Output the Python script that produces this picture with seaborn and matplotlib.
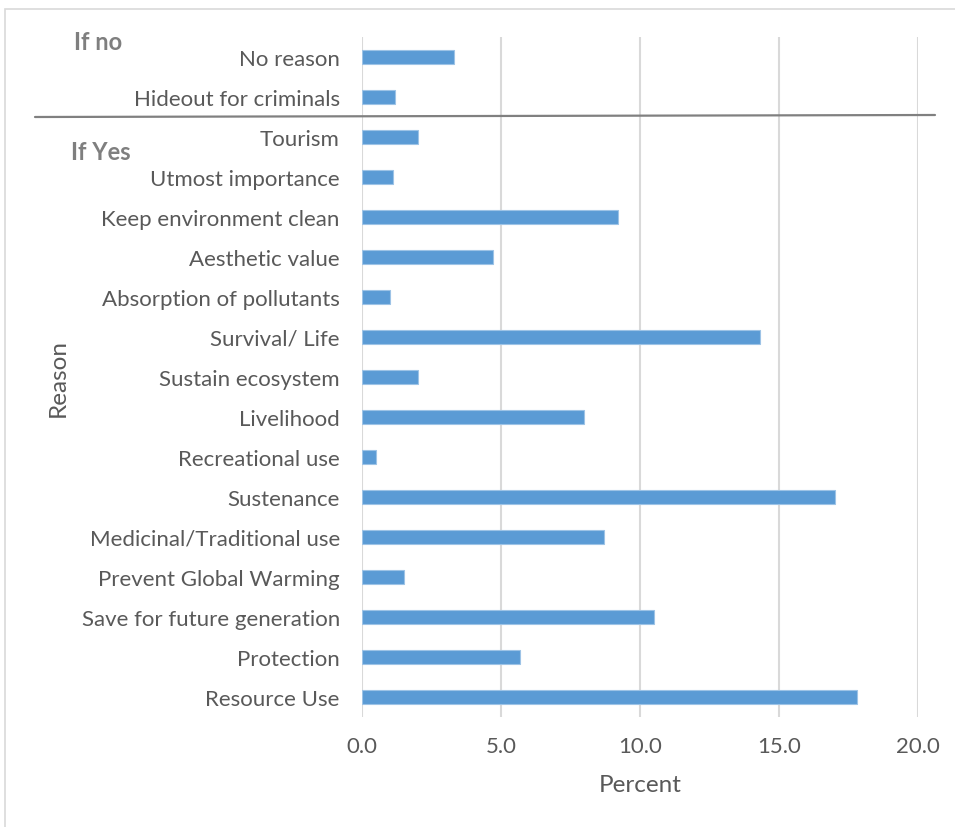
import matplotlib
matplotlib.use("Agg")
import matplotlib.pyplot as plt
import seaborn as sns
import pandas as pd
from matplotlib.lines import Line2D
from matplotlib.patches import Rectangle

# Reasons, listed top to bottom as drawn
reasons = [
    "No reason",
    "Hideout for criminals",
    "Tourism",
    "Utmost importance",
    "Keep environment clean",
    "Aesthetic value",
    "Absorption of pollutants",
    "Survival/ Life",
    "Sustain ecosystem",
    "Livelihood",
    "Recreational use",
    "Sustenance",
    "Medicinal/Traditional use",
    "Prevent Global Warming",
    "Save for future generation",
    "Protection",
    "Resource Use",
]
percent = [3.3, 1.2, 2.0, 1.1, 9.2, 4.7, 1.0, 14.3, 2.0, 8.0, 0.5, 17.0,
           8.7, 1.5, 10.5, 5.7, 17.8]
x_ticks = [0, 5, 10, 15, 20]
x_tick_labels = ["0.0", "5.0", "10.0", "15.0", "20.0"]

df = pd.DataFrame({"Reason": reasons, "Percent": percent})

sns.set_theme(style="white")
plt.rcParams["font.family"] = ["Lato", "DejaVu Sans"]

W, H = 955, 828
fig = plt.figure(figsize=(W / 100, H / 100), dpi=100)
ax = fig.add_axes([362 / W, 1 - 718 / H, 556 / W, 680 / H])

bar_color = "#5b9bd5"
sns.barplot(data=df, x="Percent", y="Reason", order=reasons, orient="h",
            color=bar_color, width=0.35, saturation=1, ax=ax,
            edgecolor="#9dc3e6", linewidth=0.8, zorder=3)

text_col = "#595959"
grid_col = "#d9d9d9"

ax.set_xlim(0, 20)
ax.set_xticks(x_ticks)
ax.set_xticklabels(x_tick_labels)
for xv in x_ticks:
    ax.axvline(xv, color=grid_col, lw=1.5, zorder=1)
for s in ax.spines.values():
    s.set_visible(False)

ax.tick_params(axis="both", length=0, labelsize=16, labelcolor=text_col)
ax.tick_params(axis="y", pad=16)
ax.tick_params(axis="x", pad=14)
ax.set_xlabel("Percent", fontsize=17.5, color=text_col)
ax.set_ylabel("Reason", fontsize=17.5, color=text_col)
ax.xaxis.set_label_coords(0.5, -0.084)
ax.yaxis.set_label_coords(-0.527, 0.5)

# Group divider and group headings
fig.add_artist(Line2D([35 / W, 935 / W], [1 - 118 / H, 1 - 116 / H],
                      color="#808080", lw=1.6))
fig.text(74 / W, 1 - 42 / H, "If no", fontsize=17, fontweight="bold",
         color="#7f7f7f", va="center", ha="left")
fig.text(71 / W, 1 - 152 / H, "If Yes", fontsize=17, fontweight="bold",
         color="#7f7f7f", va="center", ha="left")

# Chart frame
fig.add_artist(Rectangle((4.5 / W, -0.1), 1.2, 1 - 9.5 / H + 0.1,
                         transform=fig.transFigure, fill=False,
                         edgecolor=grid_col, lw=1.2))

fig.savefig("out.png", dpi=100, facecolor="white")
